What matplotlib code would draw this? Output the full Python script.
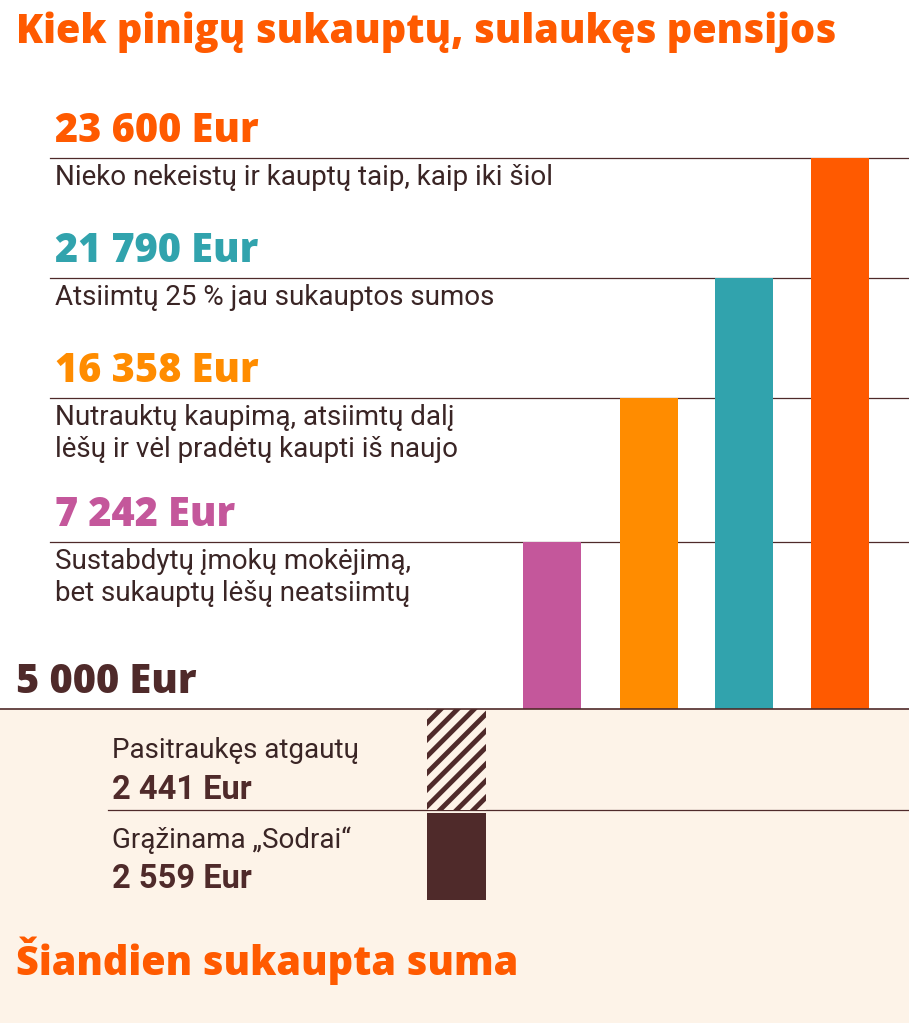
import matplotlib
matplotlib.use("Agg")
import matplotlib.pyplot as plt
import numpy as np

values = [7242, 16358, 21790, 23600]
value_labels = ["7 242 Eur", "16 358 Eur", "21 790 Eur", "23 600 Eur"]
descriptions = ["Sustabdytų įmokų mokėjimą,\nbet sukauptų lėšų neatsiimtų",
                "Nutrauktų kaupimą, atsiimtų dalį\nlėšų ir vėl pradėtų kaupti iš naujo",
                "Atsiimtų 25 % jau sukauptos sumos",
                "Nieko nekeistų ir kauptų taip, kaip iki šiol"]
colors = ["#c4579b", "#ff8c00", "#31a3ad", "#ff5a00"]
base_value = 5000
lower_values = [2441, 2559]
lower_labels = ["Pasitraukęs atgautų", "Grąžinama „Sodrai“"]
lower_value_labels = ["2 441 Eur", "2 559 Eur"]

DARK = "#4f2a2a"
BG = "#fdf3e8"
fam = ["Roboto", "DejaVu Sans"]
hfam = ["Open Sans", "DejaVu Sans"]
plt.rcParams["hatch.linewidth"] = 3.5

# non-linear display scale of the infographic (value -> pixels above baseline)
scale_pts_v = [5000, 7242, 16358, 21790, 23600]
scale_pts_px = [0, 167, 311, 431, 551]
def up(v):
    return np.interp(v, scale_pts_v, scale_pts_px)

fig = plt.figure(figsize=(9.09, 10.23), dpi=100)
ax = fig.add_axes([0, 0, 1, 1])
ax.set_xlim(0, 909)
ax.set_ylim(1023, 0)
ax.axis("off")
BASE = 709

ax.add_patch(plt.Rectangle((0, BASE), 909, 1023 - BASE, color=BG, zorder=0))
ax.plot([0, 909], [BASE, BASE], color=DARK, lw=1.2, zorder=3)

ax.text(16, 32, "Kiek pinigų sukauptų, sulaukęs pensijos", fontsize=28.5, fontweight="heavy",
        color="#ff5a00", family=hfam, va="center")

xs = [552, 649, 743.5, 839.5]
bw = 58
for i, v in enumerate(values):
    top = BASE - up(v)
    ax.bar(xs[i], up(v), bottom=top, width=bw, color=colors[i], zorder=2)
    ax.plot([50, 909], [top, top], color=DARK, lw=0.9, zorder=1)
    ax.text(55, top - 6, value_labels[i], fontsize=28.5, fontweight="heavy", color=colors[i],
            family=hfam, va="bottom")
    ax.text(55, top + 6, descriptions[i], fontsize=20, color="#3a2525", family=fam,
            va="top", linespacing=1.25)

ax.text(16, BASE - 6, f"{base_value:,} Eur".replace(",", " "), fontsize=28.5, fontweight="heavy",
        color=DARK, family=hfam, va="bottom")

k = 0.0415
h1 = lower_values[0] * k
h2 = lower_values[1] * k * 0.82
ax.bar(456.5, h1, bottom=BASE, width=59, color=BG, edgecolor=DARK, hatch="//",
       linewidth=0, zorder=2)
ax.plot([108, 909], [BASE + h1, BASE + h1], color=DARK, lw=0.9, zorder=1)
ax.bar(456.5, h2, bottom=BASE + h1 + 3, width=59, color=DARK, zorder=2)

ax.text(112, 750, lower_labels[0], fontsize=20, color="#3a2525", family=fam, va="center")
ax.text(112, 790, lower_value_labels[0], fontsize=23.5, fontweight="bold", color=DARK, family=fam, va="center")
ax.text(112, 840, lower_labels[1], fontsize=20, color="#3a2525", family=fam, va="center")
ax.text(112, 879, lower_value_labels[1], fontsize=23.5, fontweight="bold", color=DARK, family=fam, va="center")

ax.text(16, 961, "Šiandien sukaupta suma", fontsize=28.5, fontweight="heavy", color="#ff5a00",
        family=hfam, va="center")

fig.savefig("out.png", dpi=100)
